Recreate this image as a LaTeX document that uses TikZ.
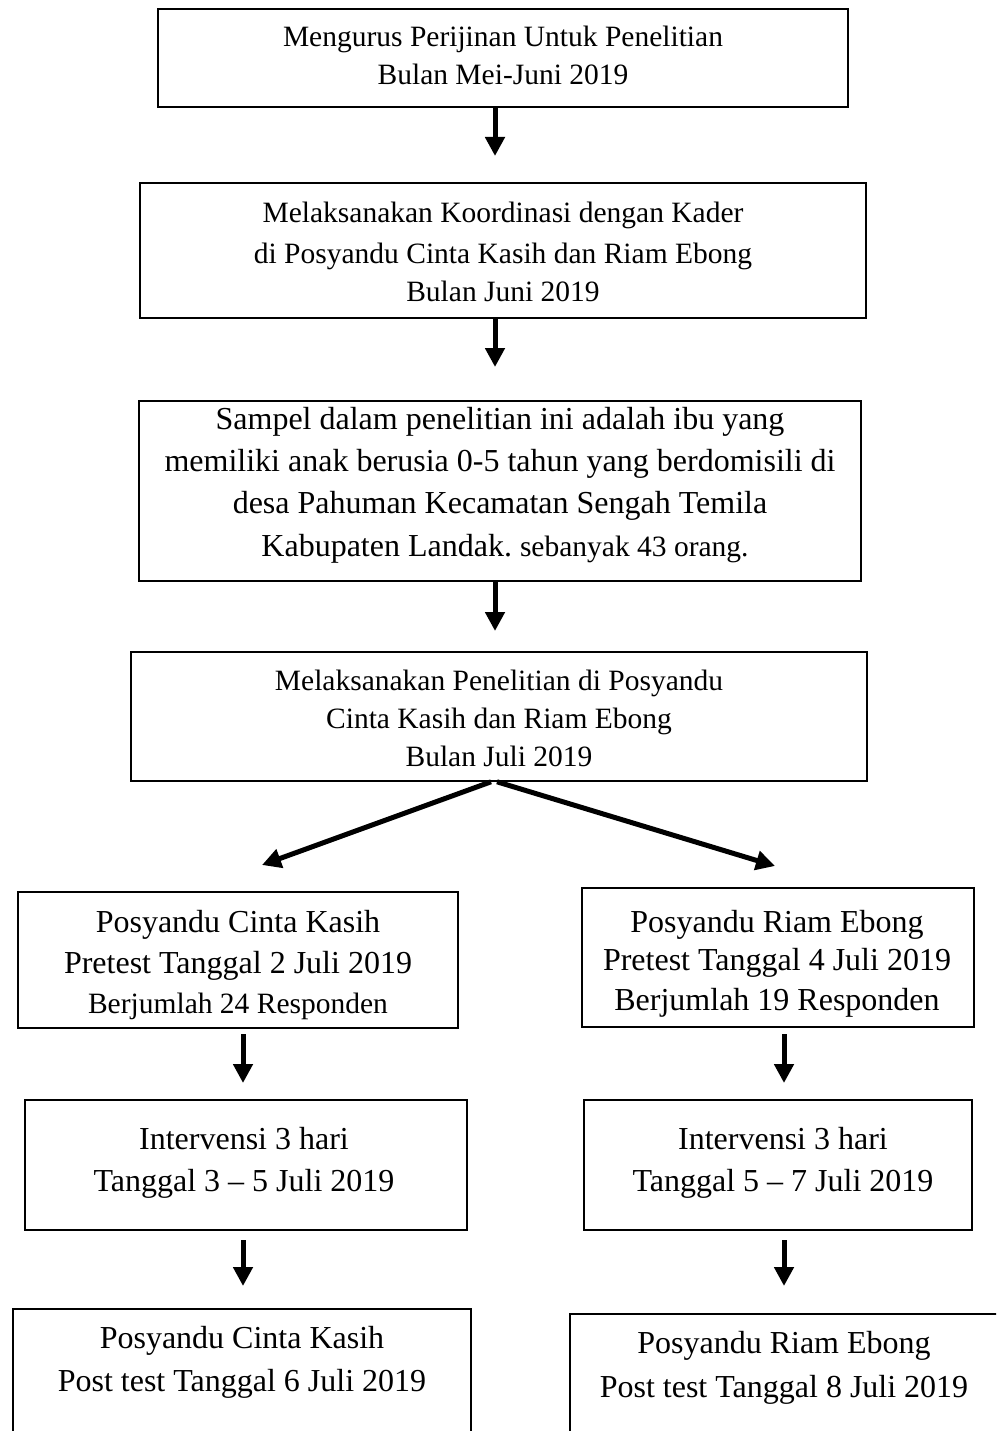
\documentclass[tikz,border=0pt]{standalone}
\usepackage{fontspec}
\setmainfont{Liberation Serif}
\usetikzlibrary{arrows.meta,calc}
\newcommand\fntA{\fontsize{29.5}{35}\selectfont}
\newcommand\fntB{\fontsize{32}{38}\selectfont}
\frenchspacing
\begin{document}
\begin{tikzpicture}[x=1pt,y=-1pt,
  box/.style={draw, line width=1.6pt, inner sep=0pt},
  txt/.style={anchor=base, inner sep=0pt},
  arr/.style={line width=5pt, -{Triangle[length=19pt,width=19pt]}}]
\useasboundingbox (0,0) rectangle (996,1431);
\clip (0,0) rectangle (996,1431);
% boxes
\node[box, minimum width=690pt, minimum height=98pt] (b1) at (503,58) {};
\node[box, minimum width=726pt, minimum height=135pt] (b2) at (503,250.5) {};
\node[box, minimum width=722pt, minimum height=180pt] (b3) at (500,491) {};
\node[box, minimum width=736pt, minimum height=129pt] (b4) at (499,716.5) {};
\node[box, minimum width=440pt, minimum height=136pt] (b5l) at (238,960) {};
\node[box, minimum width=392pt, minimum height=139pt] (b5r) at (778,957.5) {};
\node[box, minimum width=442pt, minimum height=130pt] (b6l) at (246,1165) {};
\node[box, minimum width=388pt, minimum height=130pt] (b6r) at (778,1165) {};
\node[box, minimum width=458pt, minimum height=191pt] (b7l) at (242,1404.5) {};
\node[box, minimum width=440pt, minimum height=186pt] (b7r) at (790,1407) {};
% texts
\node[txt, font=\fntA] (t1a) at (503,47) {Mengurus Perijinan Untuk Penelitian};
\node[txt, font=\fntA] (t1b) at (503,85) {Bulan Mei-Juni 2019};
\node[txt, font=\fntA] (t2a) at (503,223) {Melaksanakan Koordinasi dengan Kader};
\node[txt, font=\fntA] (t2b) at (503,263) {di Posyandu Cinta Kasih dan Riam Ebong};
\node[txt, font=\fntA] (t2c) at (503,301) {Bulan Juni 2019};
\node[txt, font=\fntB] (t3a) at (500,429) {Sampel dalam penelitian ini adalah ibu yang};
\node[txt, font=\fntB] (t3b) at (500,471) {memiliki anak berusia 0-5 tahun yang berdomisili di};
\node[txt, font=\fntB] (t3c) at (500,513) {desa Pahuman Kecamatan Sengah Temila};
\node[txt, font=\fntB] (t3d) at (505,556) {Kabupaten Landak.\ {\fntA sebanyak 43 orang.}};
\node[txt, font=\fntA] (t4a) at (499,690) {Melaksanakan Penelitian di Posyandu};
\node[txt, font=\fntA] (t4b) at (499,728) {Cinta Kasih dan Riam Ebong};
\node[txt, font=\fntA] (t4c) at (499,766) {Bulan Juli 2019};
\node[txt, font=\fntB] (t5la) at (238,932) {Posyandu Cinta Kasih};
\node[txt, font=\fntB] (t5lb) at (238,973) {Pretest Tanggal 2 Juli 2019};
\node[txt, font=\fntA] (t5lc) at (238,1013) {Berjumlah 24 Responden};
\node[txt, font=\fntB] (t5ra) at (777,932) {Posyandu Riam Ebong};
\node[txt, font=\fntB] (t5rb) at (777,970) {Pretest Tanggal 4 Juli 2019};
\node[txt, font=\fntB] (t5rc) at (777,1010) {Berjumlah 19 Responden};
\node[txt, font=\fntB] (t6la) at (244,1149) {Intervensi 3 hari};
\node[txt, font=\fntB] (t6lb) at (244,1191) {Tanggal 3 – 5 Juli 2019};
\node[txt, font=\fntB] (t6ra) at (783,1149) {Intervensi 3 hari};
\node[txt, font=\fntB] (t6rb) at (783,1191) {Tanggal 5 – 7 Juli 2019};
\node[txt, font=\fntB] (t7la) at (242,1348) {Posyandu Cinta Kasih};
\node[txt, font=\fntB] (t7lb) at (242,1391) {Post test Tanggal 6 Juli 2019};
\node[txt, font=\fntB] (t7ra) at (784,1353) {Posyandu Riam Ebong};
\node[txt, font=\fntB] (t7rb) at (784,1397) {Post test Tanggal 8 Juli 2019};
% arrow end points
\coordinate (e1) at (495,156);
\coordinate (e2) at (495,367);
\coordinate (e3) at (495,631);
\coordinate (el) at (262,865);
\coordinate (er) at (775,866);
\coordinate (s5l) at (243,1034);
\coordinate (e5l) at (243,1083);
\coordinate (s5r) at (784,1034);
\coordinate (e5r) at (784,1083);
\coordinate (s6l) at (243,1240);
\coordinate (e6l) at (243,1286);
\coordinate (s6r) at (784,1240);
\coordinate (e6r) at (784,1286);
% arrows
\draw[arr] (b1.south -| e1) -- (e1);
\draw[arr] (b2.south -| e2) -- (e2);
\draw[arr] (b3.south -| e3) -- (e3);
\draw[arr] ($(b4.south)+(-8,0)$) -- (el);
\draw[arr] ($(b4.south)+(-2,0)$) -- (er);
\draw[arr] (s5l) -- (e5l);
\draw[arr] (s5r) -- (e5r);
\draw[arr] (s6l) -- (e6l);
\draw[arr] (s6r) -- (e6r);
\end{tikzpicture}
\end{document}
